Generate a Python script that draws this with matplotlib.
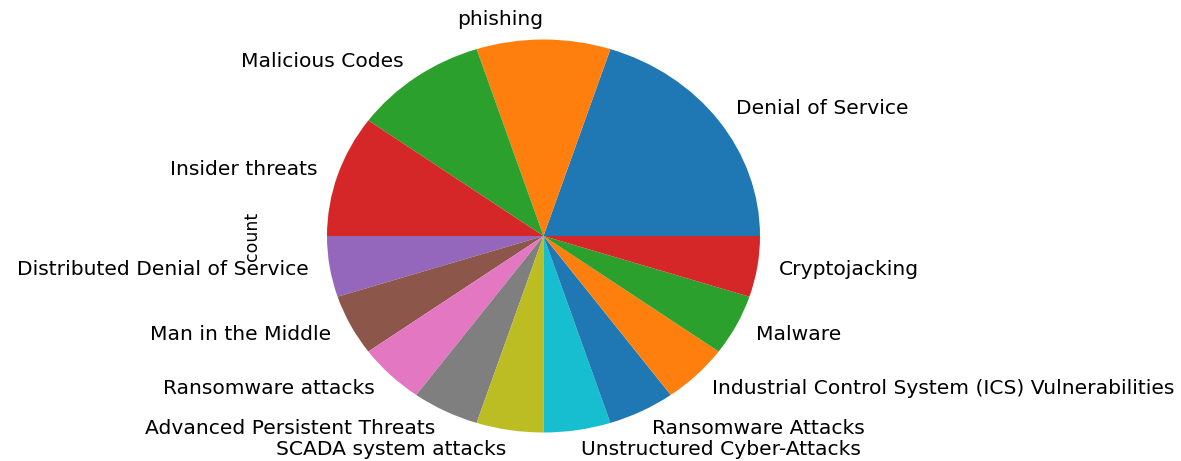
import matplotlib
matplotlib.use("Agg")
import matplotlib.pyplot as plt
import pandas as pd

# attack type counts, in the order value_counts gave them
attack_types = ["Denial of Service", "phishing", "Malicious Codes", "Insider threats",
                "Distributed Denial of Service", "Man in the Middle", "Ransomware attacks",
                "Advanced Persistent Threats", "SCADA system attacks",
                "Unstructured Cyber-Attacks", "Ransomware Attacks",
                "Industrial Control System (ICS) Vulnerabilities", "Malware", "Cryptojacking"]
counts = [4, 2, 2, 2, 1, 1, 1, 1, 1, 1, 1, 1, 1, 1]

s = pd.Series(counts, index=attack_types, name="count")

fig = plt.figure(figsize=(11.81, 4.61), dpi=100)
# reference pie is a bit squashed: rx ~216px, ry ~196px, centre (543, 236)
w_px = 2.5 * 216.5
h_px = 2.5 * 196.5
ax = fig.add_axes([(543.5 - w_px/2)/1181, (225 - h_px/2)/461, w_px/1181, h_px/461])
s.plot.pie(ax=ax, fontsize=14.6)
ax.set_aspect('auto')
ax.set_xlim(-1.25, 1.25)
ax.set_ylim(-1.25, 1.25)
ax.set_ylabel("count", fontsize=12.5)
ax.yaxis.set_label_coords(-0.022, 0.5)

plt.savefig("out.png", dpi=100)
